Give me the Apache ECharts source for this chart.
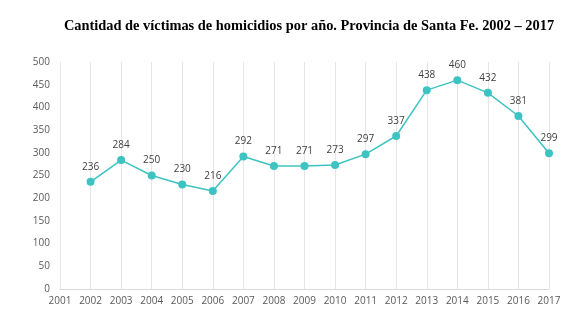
<!DOCTYPE html>
<html>
<head>
<meta charset="utf-8">
<script src="https://cdn.jsdelivr.net/npm/echarts@6/dist/echarts.min.js"></script>
<style>
  html, body { margin: 0; padding: 0; background: #ffffff; }
  #chart { width: 583px; height: 328px; }
</style>
</head>
<body>
<div id="chart"></div>
<script>
// Years on the horizontal axis (2001 has no recorded value)
const years = ['2001', '2002', '2003', '2004', '2005', '2006', '2007', '2008', '2009',
  '2010', '2011', '2012', '2013', '2014', '2015', '2016', '2017'];
// Homicide victims per year
const victims = [null, 236, 284, 250, 230, 216, 292, 271, 271, 273, 297, 337, 438, 460, 432, 381, 299];

const chart = echarts.init(document.getElementById('chart'));
chart.setOption({
  animation: false,
  backgroundColor: '#ffffff',
  title: {
    text: 'Cantidad de víctimas de homicidios por año. Provincia de Santa Fe. 2002 – 2017',
    left: 304,
    textAlign: 'center',
    top: 14,
    textStyle: {
      fontFamily: 'Liberation Serif',
      fontWeight: 'bold',
      fontSize: 14.4,
      color: '#000000'
    }
  },
  grid: { left: 60, right: 34, top: 62, bottom: 39, containLabel: false },
  xAxis: {
    type: 'category',
    data: years,
    boundaryGap: false,
    axisLine: { show: true, lineStyle: { color: '#d9d9d9', width: 1 } },
    axisTick: { show: false },
    axisLabel: { color: '#595959', fontFamily: 'Open Sans', fontSize: 10, margin: 7 },
    splitLine: { show: true, lineStyle: { color: '#e6e6e6', width: 1 } }
  },
  yAxis: {
    type: 'value',
    min: 0,
    max: 500,
    interval: 50,
    axisLine: { show: false },
    axisTick: { show: false },
    axisLabel: { color: '#595959', fontFamily: 'Open Sans', fontSize: 10, margin: 10 },
    splitLine: { show: false }
  },
  series: [{
    type: 'line',
    data: victims,
    symbol: 'circle',
    symbolSize: 8,
    lineStyle: { color: '#3ec3c3', width: 1.5 },
    itemStyle: { color: '#3ec3c3' },
    label: {
      show: true,
      position: 'top',
      distance: 6,
      color: '#404040',
      fontFamily: 'Open Sans',
      fontSize: 10
    }
  }]
});
</script>
</body>
</html>
